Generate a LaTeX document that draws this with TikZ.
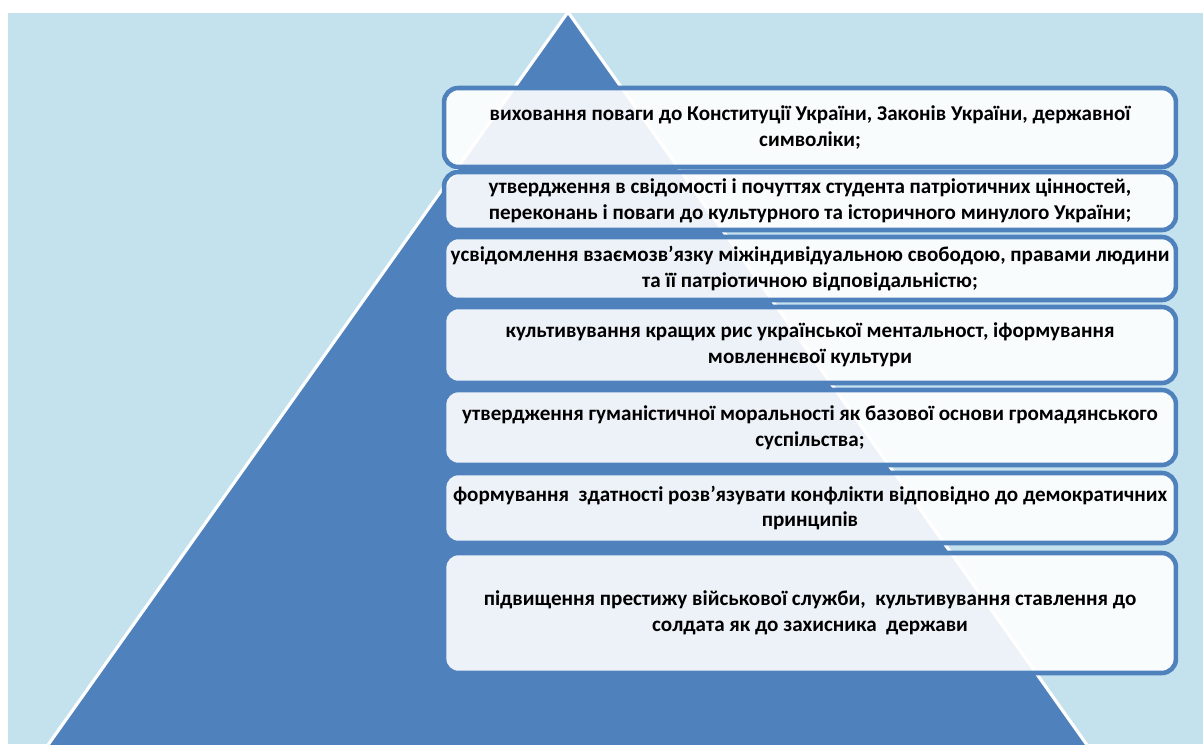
\documentclass[tikz,border=0pt]{standalone}
\usepackage{fontspec}
\setmainfont{Carlito}
\usepackage{tikz}
\definecolor{bgl}{RGB}{196,226,238}
\definecolor{trib}{RGB}{79,129,189}
\definecolor{boxf}{RGB}{255,255,255}
\tikzset{
    aim/.style={draw=trib, line width=2.6pt, fill=boxf, fill opacity=.9, text opacity=1,
        rounded corners=8pt, minimum width=14.64cm, align=center,
        font=\fontsize{12}{14.7}\selectfont\bfseries, text=black}
}

\begin{document}
\begin{tikzpicture}[x=.02cm, y=-.02cm]
    \useasboundingbox(0, 0)rectangle(1203, 744);
    \fill[bgl](8, 13)rectangle(1203, 744);
    \begin{scope}
        \clip(8, 13)rectangle(1203, 744);
        \draw[white, line width=1.8pt, fill=trib](568, 12)--(1092, 752)--(43, 752)--cycle;
    \end{scope}
    \node[aim, minimum height=1.58cm](row1) at(810, 127.5)
        {виховання поваги до Конституції України, Законів України, державної\\ символіки;};
    \node[aim, minimum height=1.16cm](row2) at(810, 201)
        {утвердження в свідомості і почуттях студента патріотичних цінностей,\\ переконань і поваги до культурного та історичного минулого України;};
    \node[aim, minimum height=1.26cm](row3) at(810, 268.5)
        {усвідомлення взаємозв’язку міжіндивідуальною свободою, правами людини\\ та її патріотичною відповідальністю;};
    \node[aim, minimum height=1.52cm](row4) at(810, 345)
        {культивування кращих рис української ментальност, іформування\\ мовленнєвої культури};
    \node[aim, minimum height=1.5cm](row5) at(810, 427.5)
        {утвердження гуманістичної моральності як базової основи громадянського\\ суспільства;};
    \node[aim, minimum height=1.4cm](row6) at(810, 508)
        {формування\ \ здатності розв’язувати конфлікти відповідно до демократичних\\ принципів};
    \node[aim, minimum height=2.4cm](row7) at(810, 613)
        {підвищення престижу військової служби,\ \ культивування ставлення до\\ солдата як до захисника\ \ держави};
\end{tikzpicture}
\end{document}
